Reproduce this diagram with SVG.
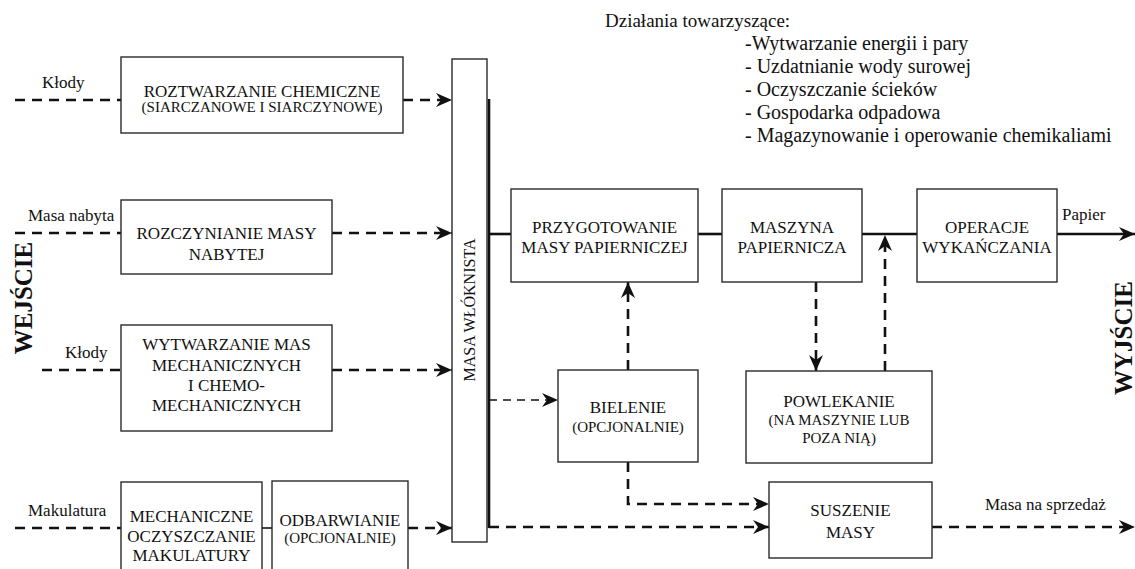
<svg xmlns="http://www.w3.org/2000/svg" width="1135" height="569" viewBox="0 0 1135 569">
  <style>
    .bg { fill: #ffffff; }
    .box { fill: #ffffff; stroke: #2a2a2a; stroke-width: 1.4; }
    .t { font-family: "Liberation Serif", "Times New Roman", serif; fill: #111; text-anchor: middle; }
    .main { font-size: 17px; }
    .sub { font-size: 15px; }
    .lbl { font-family: "Liberation Serif", "Times New Roman", serif; fill: #111; font-size: 17px; }
    .side { font-family: "Liberation Serif", "Times New Roman", serif; fill: #111; font-size: 25px; font-weight: bold; text-anchor: middle; }
    .list { font-family: "Liberation Serif", "Times New Roman", serif; fill: #111; font-size: 20px; }
    .solid { fill: none; stroke: #111; stroke-width: 2.6; }
    .dash { fill: none; stroke: #111; stroke-width: 2.6; stroke-dasharray: 10 7; }
    .dashthin { fill: none; stroke: #111; stroke-width: 1.6; stroke-dasharray: 8 6; }
  </style>
  <defs>
    <marker id="arrow" markerUnits="userSpaceOnUse" markerWidth="18" markerHeight="16" refX="16" refY="7" orient="auto">
      <path d="M0,0 L16,7 L0,14 L5,7 z" fill="#111"/>
    </marker>
  </defs>

  <rect class="bg" x="0" y="0" width="1135" height="569"/>

  <!-- side titles -->
  <text class="side" transform="translate(32,298) rotate(-90)">WEJŚCIE</text>
  <text class="side" transform="translate(1132,338) rotate(-90)">WYJŚCIE</text>

  <!-- auxiliary operations list -->
  <g id="dzialania">
    <text class="list" x="605" y="27" style="font-size:19px">Działania towarzyszące:</text>
    <text class="list" x="745" y="50">-Wytwarzanie energii i pary</text>
    <text class="list" x="745" y="73">- Uzdatnianie wody surowej</text>
    <text class="list" x="745" y="96">- Oczyszczanie ścieków</text>
    <text class="list" x="745" y="119">- Gospodarka odpadowa</text>
    <text class="list" x="745" y="142">- Magazynowanie i operowanie chemikaliami</text>
  </g>

  <!-- connectors -->
  <g id="connectors">
    <!-- raw material inputs -->
    <path class="dash" d="M15,100 H121"/>
    <path class="dash" d="M15,233 H121"/>
    <path class="dash" d="M42,370 H121"/>
    <path class="dash" d="M15,528 H121"/>
    <!-- pulping lines into fibre stock -->
    <path class="dash" d="M403,100 H452" marker-end="url(#arrow)"/>
    <path class="dash" d="M332,233 H452" marker-end="url(#arrow)"/>
    <path class="dash" d="M332,370 H452" marker-end="url(#arrow)"/>
    <path class="solid" d="M262,528 H272" style="stroke-width:1.6"/>
    <path class="dash" d="M408,528 H452" marker-end="url(#arrow)"/>
    <!-- fibre stock collector -->
    <path class="solid" d="M489,99 V528"/>
    <path class="solid" d="M489,234 H511"/>
    <path class="solid" d="M698,234 H722"/>
    <path class="solid" d="M862,234 H917"/>
    <path class="solid" d="M1057,234 H1135" marker-end="url(#arrow)"/>
    <!-- bleaching -->
    <path class="dashthin" d="M489,400 H558" marker-end="url(#arrow)"/>
    <path class="dash" d="M628,370 V282" marker-end="url(#arrow)"/>
    <path class="dash" d="M628,462 V504 H769" marker-end="url(#arrow)"/>
    <!-- coating loop -->
    <path class="dash" d="M816,282 V371" marker-end="url(#arrow)"/>
    <path class="dash" d="M885,371 V235" marker-end="url(#arrow)"/>
    <!-- market pulp -->
    <path class="dash" d="M489,527 H769" marker-end="url(#arrow)"/>
    <path class="dash" d="M932,527 H1135" marker-end="url(#arrow)"/>
    <!-- stream labels -->
    <text class="lbl" x="42" y="88">Kłody</text>
    <text class="lbl" x="28" y="221">Masa nabyta</text>
    <text class="lbl" x="65" y="358">Kłody</text>
    <text class="lbl" x="28" y="516">Makulatura</text>
    <text class="lbl" x="1062" y="220">Papier</text>
    <text class="lbl" x="985" y="510">Masa na sprzedaż</text>
  </g>

  <g id="roztwarzanie">
    <rect class="box" x="121" y="57" width="282" height="76"/>
    <text class="t main" x="262" y="97">ROZTWARZANIE CHEMICZNE</text>
    <text class="t sub" x="262" y="112">(SIARCZANOWE I SIARCZYNOWE)</text>
  </g>

  <g id="rozczynianie">
    <rect class="box" x="121" y="200" width="211" height="74"/>
    <text class="t main" x="226.5" y="239">ROZCZYNIANIE MASY</text>
    <text class="t main" x="226.5" y="260">NABYTEJ</text>
  </g>

  <g id="wytwarzanie">
    <rect class="box" x="121" y="325" width="211" height="106"/>
    <text class="t main" x="226.5" y="350">WYTWARZANIE MAS</text>
    <text class="t main" x="226.5" y="371">MECHANICZNYCH</text>
    <text class="t main" x="226.5" y="391">I CHEMO-</text>
    <text class="t main" x="226.5" y="411">MECHANICZNYCH</text>
  </g>

  <g id="oczyszczanie">
    <rect class="box" x="121" y="482" width="141" height="92"/>
    <text class="t main" x="191.5" y="522">MECHANICZNE</text>
    <text class="t main" x="191.5" y="542">OCZYSZCZANIE</text>
    <text class="t main" x="191.5" y="561">MAKULATURY</text>
  </g>

  <g id="odbarwianie">
    <rect class="box" x="272" y="481" width="136" height="93"/>
    <text class="t main" x="340" y="526">ODBARWIANIE</text>
    <text class="t sub" x="340" y="543">(OPCJONALNIE)</text>
  </g>

  <g id="masa-wloknista">
    <rect class="box" x="452" y="59" width="35" height="483"/>
    <text class="t" style="font-size:16px" transform="translate(475,310) rotate(-90)">MASA WŁÓKNISTA</text>
  </g>

  <g id="przygotowanie">
    <rect class="box" x="511" y="189" width="187" height="93"/>
    <text class="t main" x="604.5" y="233">PRZYGOTOWANIE</text>
    <text class="t main" x="604.5" y="253">MASY PAPIERNICZEJ</text>
  </g>

  <g id="maszyna">
    <rect class="box" x="722" y="189" width="140" height="93"/>
    <text class="t main" x="792" y="233">MASZYNA</text>
    <text class="t main" x="792" y="253">PAPIERNICZA</text>
  </g>

  <g id="operacje">
    <rect class="box" x="917" y="189" width="140" height="93"/>
    <text class="t main" x="987" y="233">OPERACJE</text>
    <text class="t main" x="987" y="253">WYKAŃCZANIA</text>
  </g>

  <g id="bielenie">
    <rect class="box" x="558" y="370" width="140" height="92"/>
    <text class="t main" x="628" y="413">BIELENIE</text>
    <text class="t sub" x="628" y="432">(OPCJONALNIE)</text>
  </g>

  <g id="powlekanie">
    <rect class="box" x="746" y="371" width="186" height="92"/>
    <text class="t main" x="839" y="407">POWLEKANIE</text>
    <text class="t sub" x="839" y="425">(NA MASZYNIE LUB</text>
    <text class="t sub" x="839" y="443">POZA NIĄ)</text>
  </g>

  <g id="suszenie">
    <rect class="box" x="769" y="482" width="163" height="76"/>
    <text class="t main" x="850.5" y="516">SUSZENIE</text>
    <text class="t main" x="850.5" y="538">MASY</text>
  </g>
</svg>
